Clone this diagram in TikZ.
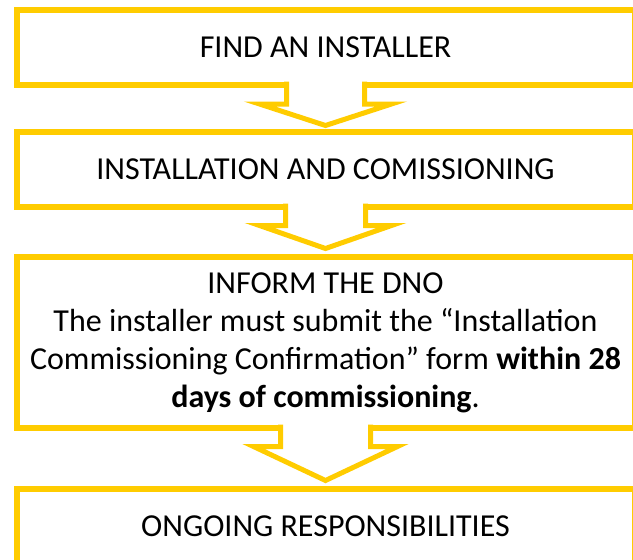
\documentclass[tikz,border=0pt]{standalone}
\usepackage{fontspec}
\setmainfont{Carlito}
\usetikzlibrary{calc}
\definecolor{gold}{HTML}{FFCC00}
\newcommand\drawchevron[6]{%
  \fill[white] ($(#1.south)+(-#3,-3.5)$) -- ($(#1.south)+(-#3,#4)$) -- ($(#1.south)+(-#5,#4)$) -- ($(#2.north)+(0,-#6)$) -- ($(#1.south)+(#5,#4)$) -- ($(#1.south)+(#3,#4)$) -- ($(#1.south)+(#3,-3.5)$) -- cycle;
  \draw[chev] ($(#1.south)+(-#3,-3.5)$) -- ($(#1.south)+(-#3,#4)$) -- ($(#1.south)+(-#5,#4)$) -- ($(#2.north)+(0,-#6)$) -- ($(#1.south)+(#5,#4)$) -- ($(#1.south)+(#3,#4)$) -- ($(#1.south)+(#3,-3.5)$);
}
\begin{document}
\begin{tikzpicture}[x=1pt,y=-1pt,
  box/.style={draw=gold, line width=6pt, fill=white, minimum width=618pt, inner sep=0pt, outer sep=0pt, align=center, font=\fontsize{32}{38}\selectfont},
  chev/.style={draw=gold, line width=5pt, line join=miter}]
\useasboundingbox (0,0) rectangle (633,560);
\clip (0,0) rectangle (633,560);
\node[box, minimum height=75pt] (b1) at (325.5,47.5) {FIND AN INSTALLER};
\node[box, minimum height=75pt] (b2) at (325.5,169.5) {INSTALLATION AND COMISSIONING};
\node[box, minimum height=171pt] (b3) at (325.5,342.5) {INFORM THE DNO\\The installer must submit the “Installation\\Commissioning Confirmation” form \textbf{within 28}\\\textbf{days of commissioning}.};
\node[box, minimum height=76pt] (b4) at (325.5,526.5) {ONGOING RESPONSIBILITIES};
\drawchevron{b1}{b2}{39}{19}{66}{6.5}
\drawchevron{b2}{b3}{40}{18.5}{66}{8.5}
\drawchevron{b3}{b4}{45}{18.5}{72}{8}
\end{tikzpicture}
\end{document}
